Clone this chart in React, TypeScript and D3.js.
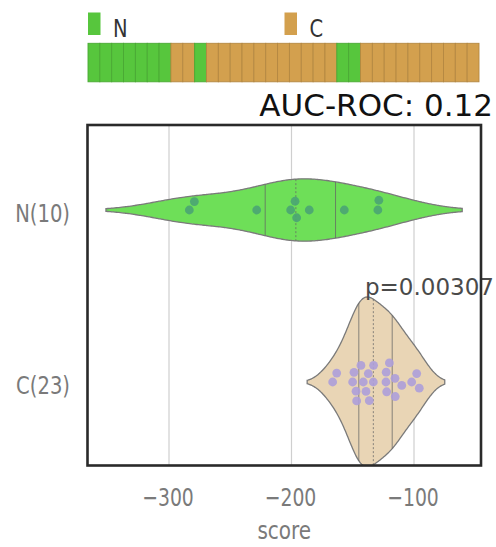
import React from "react";
import * as d3 from "d3";

// ---- data ----
const groups = ["N", "C"];
const nScores = [-283.4, -279.3, -228.4, -200.7, -197.1, -195.8, -185.5, -156.9, -129.5, -128.7];
const cScores = [
  -166.4, -163.1, -150.1, -149.0, -147.3, -146.8, -143.3, -141.4, -139.2, -137.3, -136.5, -133.2,
  -133.0, -122.9, -122.7, -122.3, -120.1, -115.5, -115.3, -110.0, -101.9, -97.8, -95.7,
];
const xTicks = [-300, -200, -100];
const aucText = "AUC-ROC: 0.12";
const pText = "p=0.00307";
const xLabel = "score";

const barColors = { N: "#57c63d", C: "#d3a04e" };
const violinFill = { N: "#6edf58", C: "#e9d5b5" };
const pointFill = { N: "#4aa474", C: "#ad9fd9" };

const W = 496;
const H = 547;
const plot = { left: 87.5, right: 481, top: 125, bottom: 465.5 };

function bandwidth(values: number[]) {
  const sd = d3.deviation(values) as number;
  return sd * Math.pow(values.length, -1 / 5);
}

function densityAt(values: number[], v: number) {
  const bw = bandwidth(values);
  let s = 0;
  for (const w of values) {
    const z = (v - w) / bw;
    s += Math.exp(-0.5 * z * z);
  }
  return s / (values.length * bw * Math.sqrt(2 * Math.PI));
}

function kde(values: number[]) {
  const bw = bandwidth(values);
  const lo = (d3.min(values) as number) - 2 * bw;
  const hi = (d3.max(values) as number) + 2 * bw;
  const grid = d3.range(0, 201).map((i) => lo + ((hi - lo) * i) / 200);
  return grid.map((g) => [g, densityAt(values, g)] as [number, number]);
}

function quantile(values: number[], p: number) {
  return d3.quantile([...values].sort((a, b) => a - b), p) as number;
}

function swarm(xs: number[], diam: number) {
  const order = xs.map((x, i) => i).sort((a, b) => xs[a] - xs[b]);
  const placed: { x: number; y: number }[] = [];
  const out: number[] = new Array(xs.length).fill(0);
  for (const i of order) {
    const x = xs[i];
    const cands = [0];
    for (const p of placed) {
      const dx = Math.abs(p.x - x);
      if (dx < diam) {
        const dy = Math.sqrt(diam * diam - dx * dx);
        cands.push(p.y - dy, p.y + dy);
      }
    }
    cands.sort((a, b) => Math.abs(a) - Math.abs(b));
    let chosen = 0;
    for (const c of cands) {
      const ok = placed.every((p) => Math.hypot(p.x - x, p.y - c) >= diam - 0.01);
      if (ok) {
        chosen = c;
        break;
      }
    }
    placed.push({ x, y: chosen });
    out[i] = chosen;
  }
  return out;
}

export default function App() {
  const x = d3.scaleLinear().domain([-300, -100]).range([169, 414]);
  const y = d3.scaleLinear().domain([0, 1]).range([210, 382]);
  const data: Record<string, number[]> = { N: nScores, C: cScores };

  const dens = groups.map((g) => kde(data[g]));
  const maxD = d3.max(dens.flat(), (d) => d[1]) as number;
  const halfScale = d3.scaleLinear().domain([0, maxD]).range([0, 85]);

  // color bar: all scores sorted ascending
  const all = groups.flatMap((g) => data[g].map((v) => ({ g, v }))).sort((a, b) => a.v - b.v);
  const barX = d3.scaleBand<number>().domain(d3.range(all.length)).range([88, 479]);

  const tickStyle = { fontFamily: "DejaVu Sans", fill: "#7a7a7a", fontSize: 18.8 } as const;

  return (
    <svg width={W} height={H} style={{ position: "absolute", left: 0, top: 0 }}>
      <defs>
        <clipPath id="pa">
          <rect x={plot.left} y={plot.top} width={plot.right - plot.left} height={plot.bottom - plot.top} />
        </clipPath>
      </defs>
      <rect width={W} height={H} fill="#fff" />

      {/* legend */}
      {groups.map((g, i) => {
        const lx = i === 0 ? 88 : 284.5;
        return (
          <g key={g}>
            <rect x={lx} y={12.5} width={12.5} height={22.5} fill={barColors[g as "N"]} />
            <text
              transform={`translate(${lx + 25},36.5) scale(1,1.25)`}
              fontFamily="DejaVu Sans"
              fontSize={19.5}
              fill="#333"
            >
              {g}
            </text>
          </g>
        );
      })}

      {/* color bar */}
      {all.map((d, i) => {
        const f = barColors[d.g as "N"];
        return (
          <rect
            key={i}
            x={barX(i)}
            y={43.3}
            width={barX.bandwidth()}
            height={38.5}
            fill={f}
            stroke={d3.color(f)!.darker(0.45).toString()}
            strokeWidth={0.9}
          />
        );
      })}

      <text x={493} y={116} textAnchor="end" fontFamily="DejaVu Sans" fontSize={31} fill="#111">
        {aucText}
      </text>

      {/* grid */}
      {xTicks.map((t) => (
        <line key={t} x1={x(t)} x2={x(t)} y1={plot.top} y2={plot.bottom} stroke="#cfcfcf" strokeWidth={1.2} />
      ))}

      <g clipPath="url(#pa)">
        {groups.map((g, gi) => {
          const d = dens[gi];
          const cy = y(gi);
          const area = d3
            .area<[number, number]>()
            .x((p) => x(p[0]))
            .y0((p) => cy - halfScale(p[1]))
            .y1((p) => cy + halfScale(p[1]))
            .curve(d3.curveBasis);
          const vals = data[g];
          const qs = [0.25, 0.5, 0.75].map((p) => quantile(vals, p));
          const px = vals.map((v) => x(v));
          const offs = swarm(px, 9.8);
          return (
            <g key={g}>
              <path d={area(d) as string} fill={violinFill[g as "N"]} stroke="#7a7a7a" strokeWidth={1.3} />
              {qs.map((q, qi) => {
                const h = halfScale(densityAt(vals, q));
                return (
                  <line
                    key={qi}
                    x1={x(q)}
                    x2={x(q)}
                    y1={cy - h}
                    y2={cy + h}
                    stroke="#666"
                    strokeOpacity={0.75}
                    strokeWidth={1}
                    strokeDasharray={qi === 1 ? "2,2" : undefined}
                  />
                );
              })}
              {vals.map((v, i) => (
                <circle key={i} cx={px[i]} cy={cy + offs[i]} r={4.4} fill={pointFill[g as "N"]} fillOpacity={0.9} />
              ))}
            </g>
          );
        })}
      </g>

      <text x={365} y={295} fontFamily="DejaVu Sans" fontSize={23} fill="#4a4a4a">
        {pText}
      </text>

      {/* frame */}
      <rect
        x={plot.left}
        y={plot.top}
        width={plot.right - plot.left}
        height={plot.bottom - plot.top}
        fill="none"
        stroke="#2a2a2a"
        strokeWidth={2.6}
      />

      {/* x tick labels */}
      {xTicks.map((t) => (
        <text
          key={t}
          transform={`translate(${x(t) - 1},506) scale(1,1.3)`}
          textAnchor="middle"
          {...tickStyle}
        >
          {"\u2212" + Math.abs(t)}
        </text>
      ))}
      <text transform={`translate(${(plot.left + plot.right) / 2},538.5) scale(1,1.25)`} textAnchor="middle" {...tickStyle} fontSize={20}>
        {xLabel}
      </text>

      {/* y labels */}
      {groups.map((g, gi) => (
        <text
          key={g}
          transform={`translate(70,${y(gi) + 12}) scale(1,1.3)`}
          textAnchor="end"
          {...tickStyle}
          fontSize={19.6}
        >
          {`${g}(${data[g].length})`}
        </text>
      ))}
    </svg>
  );
}
